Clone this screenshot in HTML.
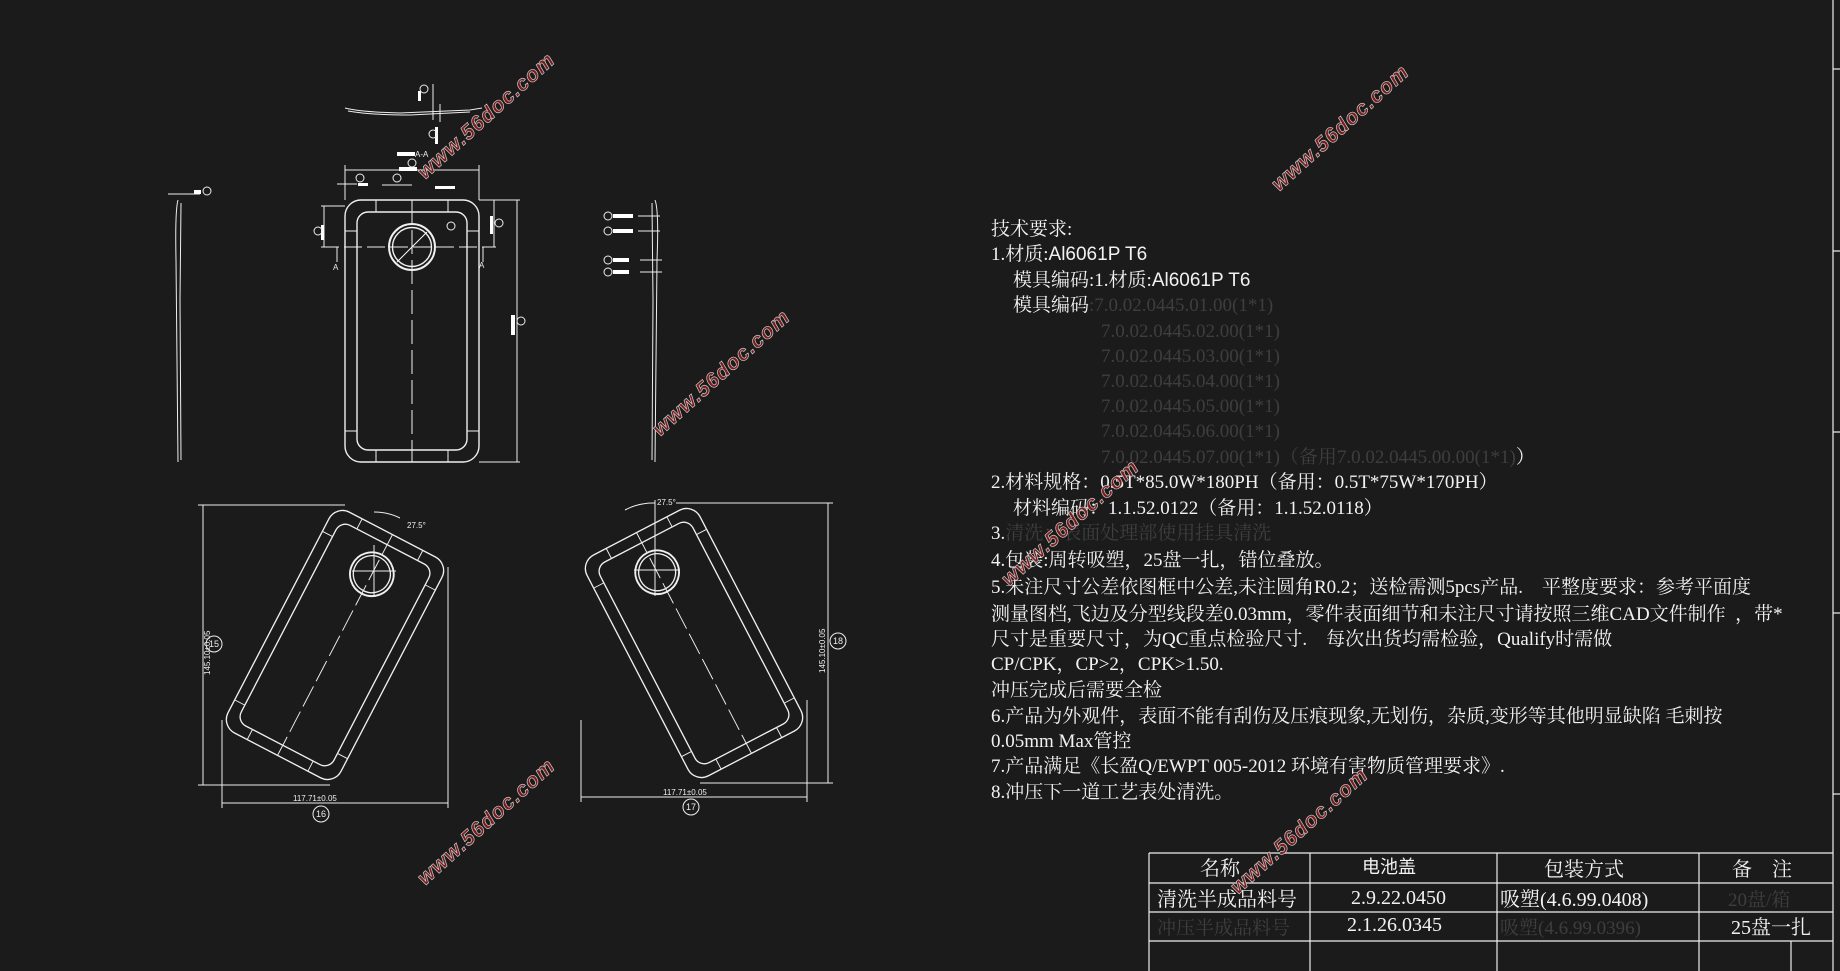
<!DOCTYPE html>
<html><head><meta charset="utf-8"><style>
html,body{margin:0;padding:0;background:#1b1b1b;}
svg{display:block}
text{white-space:pre}
.t{font-family:"Liberation Serif","Noto Serif CJK SC",serif;font-size:19px;fill:#f2f2f2}
.d{fill:#3e3e3e}
.s{font-family:"Liberation Sans","Noto Sans CJK SC",sans-serif}
.wm{font-family:"Liberation Sans",sans-serif;font-weight:bold;font-style:italic;font-size:21px;fill:#7a1c1c;stroke:#c8c8c8;stroke-width:0.7;letter-spacing:1px}
.sm{font-family:"Liberation Sans",sans-serif;font-size:8px;fill:#eee}
</style></head><body>
<svg width="1840" height="971" viewBox="0 0 1840 971" xmlns="http://www.w3.org/2000/svg">
<rect width="1840" height="971" fill="#1b1b1b"/>
<defs>
<g id="plate" fill="none" stroke="#f0f0f0" stroke-width="1.4">
  <rect x="-67" y="-131" width="134" height="262" rx="16"/>
  <rect x="-55" y="-119" width="110" height="238" rx="11"/>
  <circle cx="0" cy="-84" r="23" stroke-width="2"/>
  <circle cx="0" cy="-84" r="19.5"/>
  <line x1="0" y1="-131" x2="0" y2="131" stroke-width="1" stroke-dasharray="24 6"/>
  <line x1="-67" y1="-100" x2="-55" y2="-100" stroke-width="1"/>
  <line x1="55" y1="-100" x2="67" y2="-100" stroke-width="1"/>
  <line x1="-67" y1="100" x2="-55" y2="100" stroke-width="1"/>
  <line x1="55" y1="100" x2="67" y2="100" stroke-width="1"/>
  <line x1="-36" y1="-131" x2="-36" y2="-119" stroke-width="1"/>
  <line x1="36" y1="-131" x2="36" y2="-119" stroke-width="1"/>
  <line x1="-36" y1="131" x2="-36" y2="119" stroke-width="1"/>
  <line x1="36" y1="131" x2="36" y2="119" stroke-width="1"/>
</g>
</defs>

<g transform="translate(412,331)"><use href="#plate"/>
<line x1="-15" y1="-69" x2="15" y2="-99" stroke="#fff" stroke-width="1"/></g>
<g stroke="#eee" stroke-width="1" fill="none">
<line x1="321" y1="247" x2="496" y2="247" stroke-dasharray="18 5"/>
<line x1="345" y1="165" x2="345" y2="200"/><line x1="479" y1="165" x2="479" y2="200"/>
<line x1="345" y1="170" x2="479" y2="170"/>
<line x1="479" y1="200" x2="520" y2="200"/><line x1="479" y1="462" x2="520" y2="462"/>
<line x1="517" y1="200" x2="517" y2="462"/>
<line x1="321" y1="206" x2="345" y2="206"/><line x1="324" y1="206" x2="324" y2="247"/>
<line x1="494" y1="200" x2="494" y2="247"/>
<line x1="337" y1="184" x2="357" y2="184"/><line x1="382" y1="185" x2="412" y2="185"/>
<line x1="337" y1="247" x2="337" y2="262"/><line x1="483" y1="247" x2="483" y2="262"/>
<path d="M345 108 Q360 112 400 113 L470 110 L482 108"/>
<path d="M348 111 Q370 115 410 115 L470 112"/>
<line x1="433" y1="84" x2="433" y2="120"/>
<line x1="440" y1="104" x2="440" y2="122"/>
<path d="M178 200 Q175 210 176 260 L178 462"/>
<path d="M181 203 L180 300 L181 460"/>
<line x1="168" y1="194" x2="200" y2="194"/>
<path d="M655 200 Q659 210 657 260 L655 462"/>
<path d="M652 203 L653 300 L652 460"/>
<line x1="638" y1="216" x2="660" y2="216"/><line x1="638" y1="231" x2="660" y2="231"/>
<line x1="640" y1="260" x2="662" y2="260"/><line x1="640" y1="272" x2="662" y2="272"/>
</g>
<g fill="#fff">
<rect x="397" y="152" width="18" height="4"/><rect x="399" y="167" width="18" height="4"/>
<rect x="418" y="91" width="3" height="10"/><rect x="435" y="127" width="3" height="17"/>
<rect x="321" y="225" width="3" height="15"/><rect x="490" y="216" width="3" height="18"/>
<rect x="511" y="315" width="4" height="20"/><rect x="194" y="190" width="7" height="4"/>
<rect x="613" y="214" width="20" height="4"/><rect x="613" y="229" width="20" height="4"/>
<rect x="613" y="258" width="16" height="4"/><rect x="613" y="270" width="16" height="4"/>
<rect x="435" y="186" width="20" height="3"/><rect x="358" y="183" width="10" height="3"/>
</g>
<g fill="none" stroke="#eee" stroke-width="1">
<circle cx="424" cy="89" r="4"/><circle cx="433" cy="134" r="4"/><circle cx="412" cy="163" r="4"/>
<circle cx="360" cy="178" r="4"/><circle cx="397" cy="178" r="4"/><circle cx="318" cy="231" r="4"/>
<circle cx="499" cy="223" r="4"/><circle cx="451" cy="226" r="4"/><circle cx="521" cy="321" r="4"/>
<circle cx="207" cy="191" r="4"/><circle cx="608" cy="216" r="4"/><circle cx="608" cy="231" r="4"/>
<circle cx="608" cy="260" r="4"/><circle cx="608" cy="272" r="4"/>
</g>
<text class="sm" x="415" y="157">A-A</text>
<text class="sm" x="333" y="270">A</text><text class="sm" x="479" y="268">A</text>

<g transform="translate(335,645) rotate(27.5) scale(0.95)"><use href="#plate"/></g>
<g transform="translate(694,643) rotate(-27.5) scale(0.95)"><use href="#plate"/></g>
<g stroke="#eee" stroke-width="1" fill="none">
<line x1="198" y1="505" x2="345" y2="505"/><line x1="198" y1="785" x2="330" y2="785"/>
<line x1="203" y1="505" x2="203" y2="785"/>
<line x1="222" y1="720" x2="222" y2="808"/><line x1="448" y1="567" x2="448" y2="808"/>
<line x1="222" y1="803" x2="448" y2="803"/>
<line x1="352" y1="571" x2="396" y2="571"/><line x1="374" y1="545" x2="374" y2="597"/>
<path d="M374 512 A60 60 0 0 1 400 518"/>
<line x1="676" y1="503" x2="833" y2="503"/><line x1="700" y1="783" x2="833" y2="783"/>
<line x1="828" y1="503" x2="828" y2="783"/>
<line x1="581" y1="720" x2="581" y2="802"/><line x1="807" y1="700" x2="807" y2="802"/>
<line x1="581" y1="797" x2="807" y2="797"/>
<line x1="634" y1="570" x2="680" y2="570"/><line x1="655" y1="500" x2="655" y2="596"/>
<path d="M625 510 A60 60 0 0 1 655 503"/>
<circle cx="321" cy="814" r="8"/><circle cx="214" cy="644" r="8"/>
<circle cx="691" cy="807" r="8"/><circle cx="838" cy="641" r="8"/>
</g>
<g class="sm">
<text x="293" y="801">117.71±0.05</text><text x="663" y="795">117.71±0.05</text>
<text x="407" y="528">27.5°</text><text x="657" y="505">27.5°</text>
<text x="316" y="817" font-size="9">16</text><text x="209" y="647" font-size="9">15</text>
<text x="686" y="810" font-size="9">17</text><text x="833" y="644" font-size="9">18</text>
<text transform="translate(210,675) rotate(-90)">145.10±0.05</text>
<text transform="translate(825,673) rotate(-90)">145.10±0.05</text>
</g>

<g stroke="#eee" stroke-width="1.2">
<line x1="1833" y1="0" x2="1833" y2="971"/>
<line x1="1833" y1="69" x2="1840" y2="69"/><line x1="1833" y1="251" x2="1840" y2="251"/>
<line x1="1833" y1="432" x2="1840" y2="432"/><line x1="1833" y1="613" x2="1840" y2="613"/>
<line x1="1833" y1="794" x2="1840" y2="794"/>
</g>

<g class="t">
<text x="991" y="235">技术要求:</text>
<text x="991" y="260">1.材质:<tspan class="s">Al6061P T6</tspan></text>
<text x="1013" y="286">模具编码:1.材质:<tspan class="s">Al6061P T6</tspan></text>
<text x="1013" y="311">模具编码<tspan class="d">:7.0.02.0445.01.00(1*1)</tspan></text>
<text class="t d" x="1101" y="337">7.0.02.0445.02.00(1*1)</text>
<text class="t d" x="1101" y="362">7.0.02.0445.03.00(1*1)</text>
<text class="t d" x="1101" y="387">7.0.02.0445.04.00(1*1)</text>
<text class="t d" x="1101" y="412">7.0.02.0445.05.00(1*1)</text>
<text class="t d" x="1101" y="437">7.0.02.0445.06.00(1*1)</text>
<text x="1101" y="463"><tspan class="d">7.0.02.0445.07.00(1*1)（备用7.0.02.0445.00.00(1*1)</tspan>）</text>
<text x="991" y="488">2.材料规格：0.5T*85.0W*180PH（备用：0.5T*75W*170PH）</text>
<text x="1013" y="514">材料编码：1.1.52.0122（备用：1.1.52.0118）</text>
<text x="991" y="539">3.<tspan class="d">清洗：表面处理部使用挂具清洗</tspan></text>
<text x="991" y="566">4.包装:周转吸塑，25盘一扎，错位叠放。</text>
<text x="991" y="593">5.未注尺寸公差依图框中公差,未注圆角R0.2；送检需测5pcs产品.    平整度要求：参考平面度</text>
<text x="991" y="620">测量图档,飞边及分型线段差0.03mm，零件表面细节和未注尺寸请按照三维CAD文件制作  ，带*</text>
<text x="991" y="645">尺寸是重要尺寸，为QC重点检验尺寸.    每次出货均需检验，Qualify时需做</text>
<text x="991" y="670">CP/CPK，CP&gt;2，CPK&gt;1.50.</text>
<text x="991" y="696">冲压完成后需要全检</text>
<text x="991" y="722">6.产品为外观件，表面不能有刮伤及压痕现象,无划伤，杂质,变形等其他明显缺陷 毛刺按</text>
<text x="991" y="747">0.05mm Max管控</text>
<text x="991" y="772">7.产品满足《长盈Q/EWPT 005-2012 环境有害物质管理要求》.</text>
<text x="991" y="798">8.冲压下一道工艺表处清洗。</text>
</g>

<g stroke="#eee" stroke-width="1.2" fill="none">
<line x1="1149" y1="853" x2="1833" y2="853"/>
<line x1="1149" y1="883" x2="1833" y2="883"/>
<line x1="1149" y1="912" x2="1833" y2="912"/>
<line x1="1149" y1="941" x2="1833" y2="941"/>
<line x1="1149" y1="853" x2="1149" y2="971"/>
<line x1="1310" y1="853" x2="1310" y2="971"/>
<line x1="1497" y1="853" x2="1497" y2="971"/>
<line x1="1699" y1="853" x2="1699" y2="971"/>
<line x1="1791" y1="941" x2="1791" y2="971"/>
</g>
<g class="t">
<text x="1200" y="875" font-size="20">名称</text>
<text x="1362" y="873" font-size="18" style="font-family:'Noto Sans CJK SC',sans-serif">电池盖</text>
<text x="1544" y="876" font-size="20">包装方式</text>
<text x="1732" y="876" font-size="20">备    注</text>
<text x="1157" y="906" font-size="20">清洗半成品料号</text>
<text x="1351" y="904" font-size="20">2.9.22.0450</text>
<text x="1500" y="906" font-size="20">吸塑(4.6.99.0408)</text>
<text x="1728" y="906" font-size="20" class="t d">20盘/箱</text>
<text x="1157" y="934" font-size="20" class="t d">冲压半成品料号</text>
<text x="1347" y="931" font-size="20">2.1.26.0345</text>
<text x="1500" y="934" font-size="20" class="t d">吸塑(4.6.99.0396)</text>
<text x="1731" y="934" font-size="20">25盘一扎</text>
</g>

<g class="wm">
<text transform="translate(425,180) rotate(-42)">www.56doc.com</text>
<text transform="translate(1279,192) rotate(-42)">www.56doc.com</text>
<text transform="translate(660,437) rotate(-42)">www.56doc.com</text>
<text transform="translate(1009,587) rotate(-42)">www.56doc.com</text>
<text transform="translate(425,886) rotate(-42)">www.56doc.com</text>
<text transform="translate(1238,895) rotate(-42)">www.56doc.com</text>
</g>
</svg>
</body></html>
